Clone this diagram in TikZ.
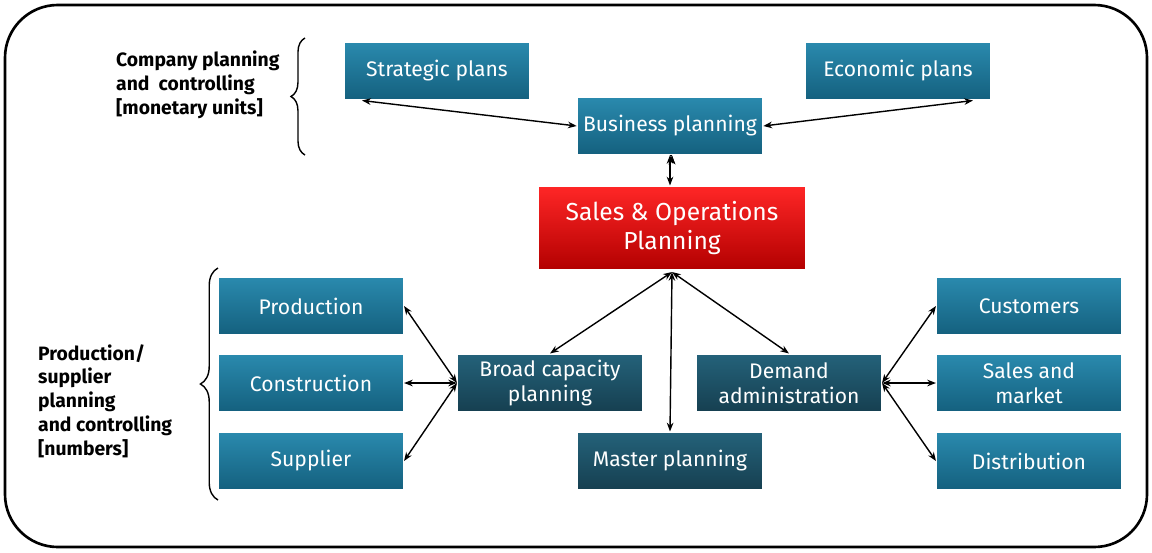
\documentclass[tikz,border=0pt]{standalone}
\usepackage{fontspec}
\setmainfont{Fira Sans}
\usetikzlibrary{arrows.meta,decorations.pathreplacing}
\definecolor{boxtop}{HTML}{2A8AAE}
\definecolor{boxbot}{HTML}{14607E}
\definecolor{darktop}{HTML}{24627A}
\definecolor{darkbot}{HTML}{163F50}
\begin{document}
\begin{tikzpicture}[x=0.02cm,y=-0.02cm,
  plan/.style={draw=white,line width=0.6pt,top color=boxtop,bottom color=boxbot,
    text=white,minimum width=3.7cm,minimum height=1.16cm,align=center,
    font=\fontsize{12}{14}\selectfont},
  task/.style={plan,top color=darktop,bottom color=darkbot},
  sop/.style={plan,top color=red!85,bottom color=red!70!black,
    minimum width=5.34cm,minimum height=1.68cm,font=\fontsize{14}{17}\selectfont},
  link/.style={{Stealth[length=5pt]}-{Stealth[length=5pt]},line width=0.8pt},
  label/.style={align=left,font=\bfseries\fontsize{11}{13.5}\selectfont,anchor=west}]
  \useasboundingbox (0,0) rectangle (1152,552);
  \draw[line width=1.5pt,rounded corners=30pt] (5,5) rectangle (1147,547);
  % upper level
  \node[plan] (strat) at (437,71)  {Strategic plans};
  \node[plan] (econ)  at (898,71)  {Economic plans};
  \node[plan] (bus)   at (670,126) {Business planning};
  \node[sop]  (sop)   at (672,228) {Sales \& Operations\\Planning};
  % lower level
  \node[plan] (prod)  at (311,306) {Production};
  \node[plan] (cons)  at (311,383) {Construction};
  \node[plan] (supp)  at (311,461) {Supplier};
  \node[task] (broad) at (550,383) {Broad capacity\\planning};
  \node[task] (dem)   at (789,383) {Demand\\administration};
  \node[task] (mast)  at (670,461) {Master planning};
  \node[plan] (cust)  at (1029,306) {Customers};
  \node[plan] (sales) at (1029,383) {Sales and\\market};
  \node[plan] (dist)  at (1029,461) {Distribution};
  % links
  \draw[link] ([xshift=-1.5cm]strat.south) -- (bus.west);
  \draw[link] ([xshift=1.5cm]econ.south) -- (bus.east);
  \draw[link] (bus.south) -- (sop.south |- bus.south) ++(0,0);
  \draw[link] (bus) ++(0,29) -- (sop.north -| bus);
  \coordinate (hub) at (672,272);
  \draw[link] (hub) -- (broad.north);
  \draw[link] (hub) -- (dem.north);
  \draw[link] (hub) -- (mast.north);
  \draw[link] (broad.west) -- (prod.east);
  \draw[link] (broad.west) -- (cons.east);
  \draw[link] (broad.west) -- (supp.east);
  \draw[link] (dem.east) -- (cust.west);
  \draw[link] (dem.east) -- (sales.west);
  \draw[link] (dem.east) -- (dist.west);
  % side labels
  \node[label] (lab1) at (110,85) {Company planning\\and\ \ controlling\\{[}monetary units{]}};
  \draw[decorate,decoration={brace,amplitude=8pt},line width=0.8pt] (305,155) -- (305,38);
  \node[label] (lab2) at (32,401) {Production/\\supplier\\planning\\and controlling\\{[}numbers{]}};
  \draw[decorate,decoration={brace,amplitude=10pt},line width=0.8pt] (218,500) -- (218,268);
\end{tikzpicture}
\end{document}
